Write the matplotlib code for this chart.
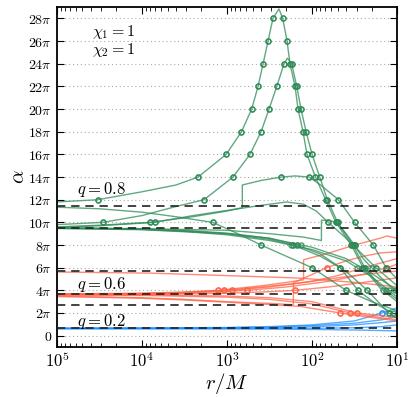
import numpy as np
import matplotlib
matplotlib.use("Agg")
import matplotlib.pyplot as plt

plt.rcParams['mathtext.fontset'] = 'cm'
plt.rcParams['font.family'] = ['DejaVu Serif']

# ---- data: each curve is (log10 r, alpha/pi) ----
green_lr = [
    [5.0, 4.52, 4.0, 3.6, 3.34, 3.01, 2.83, 2.71, 2.635, 2.576, 2.518, 2.46, 2.39, 2.345, 2.294, 2.26, 2.2, 2.165, 2.106, 2.06, 1.96, 1.84, 1.72, 1.54, 1.40, 1.2, 1.0],
    [5.0, 4.46, 4.0, 3.6, 3.27, 2.93, 2.73, 2.6, 2.506, 2.415, 2.33, 2.29, 2.24, 2.18, 2.13, 2.07, 2.0, 1.91, 1.82, 1.70, 1.52, 1.38, 1.2, 1.0],
    [5.0, 4.5, 3.91, 3.4, 3.0, 2.82, 2.82, 2.6, 2.36, 2.2, 2.035, 1.9, 1.69, 1.5, 1.28, 1.13, 1.0],
    [5.0, 4.5, 3.85, 3.4, 2.96, 2.6, 2.3, 2.1, 1.95, 1.81, 1.6, 1.25, 1.0],
    [5.0, 4.5, 4.0, 3.6, 3.17, 2.9, 2.6, 2.3, 2.0, 1.6, 1.3, 1.0],
    [5.0, 4.0, 3.0, 2.5, 2.1, 1.89, 1.89, 1.8, 1.71, 1.6, 1.5, 1.4, 1.2, 1.0],
    [5.0, 4.0, 3.5, 3.0, 2.5, 2.22, 1.9, 1.67, 1.46, 1.25, 1.0],
    [5.0, 4.0, 3.5, 3.0, 2.5, 2.18, 1.9, 1.59, 1.35, 1.1, 1.0],
    [5.0, 4.0, 3.5, 3.0, 2.5, 2.0, 1.6, 1.3, 1.0],
    [5.0, 4.0, 3.0, 2.5, 2.0, 1.6, 1.3, 1.0],
]
green_a = [
    [11.8, 12.0, 12.7, 13.3, 14.0, 16.0, 18.0, 20.0, 22.0, 24.0, 26.0, 28.0, 28.85, 28.0, 26.0, 24.0, 22.0, 20.0, 18.0, 16.0, 14.0, 12.0, 10.0, 8.0, 6.0, 4.2, 3.0],
    [9.8, 10.0, 10.6, 11.4, 12.0, 14.0, 16.0, 18.0, 20.0, 22.0, 24.0, 24.5, 24.0, 22.0, 20.0, 18.0, 16.0, 14.0, 12.0, 10.0, 8.0, 6.0, 4.4, 3.2],
    [9.6, 9.75, 10.0, 10.5, 11.0, 11.3, 13.3, 13.7, 14.0, 14.1, 14.0, 13.3, 12.0, 10.0, 8.0, 6.0, 5.0],
    [9.55, 9.7, 10.0, 10.6, 11.1, 11.5, 11.8, 11.6, 11.0, 10.0, 8.6, 6.0, 4.4],
    [11.34, 11.2, 10.9, 10.5, 10.0, 9.1, 8.0, 7.0, 6.0, 4.0, 3.0, 2.2],
    [9.5, 9.45, 9.3, 9.0, 8.7, 8.4, 10.2, 10.15, 10.0, 9.0, 8.0, 6.8, 5.2, 3.8],
    [9.52, 9.4, 9.25, 9.0, 8.5, 8.0, 7.0, 6.0, 4.0, 2.8, 1.8],
    [9.5, 9.42, 9.3, 9.05, 8.6, 8.0, 7.2, 5.6, 4.0, 2.0, 1.5],
    [9.48, 9.38, 9.2, 8.9, 8.4, 7.6, 6.6, 5.2, 3.4],
    [9.46, 9.35, 9.0, 8.6, 7.8, 6.8, 5.5, 4.0],
]

red_lr = [
    [5.0, 3.9, 3.0, 2.14, 1.5, 1.0],
    [5.0, 4.0, 3.5, 3.1, 2.6, 2.3, 2.1, 2.1, 1.8, 1.5, 1.2, 1.12, 1.0],
    [5.0, 4.0, 3.5, 3.03, 2.6, 2.2, 1.8, 1.4, 1.0],
    [5.0, 4.0, 3.5, 2.94, 2.5, 2.0, 1.7, 1.4, 1.0],
    [5.0, 4.0, 3.5, 2.76, 2.3, 1.8, 1.4, 1.12, 1.0],
    [5.0, 4.0, 3.0, 2.5, 2.2, 1.8, 1.4, 1.0],
    [5.0, 4.0, 3.5, 3.0, 2.5, 2.22, 2.22, 2.0, 1.83, 1.6, 1.4, 1.2, 1.0],
    [5.0, 4.0, 3.5, 3.0, 2.5, 2.14, 1.67, 1.4, 1.0],
    [5.0, 4.0, 3.0, 2.5, 2.0, 1.55, 1.2, 1.0],
    [5.0, 4.0, 3.0, 2.5, 2.0, 1.47, 1.0],
]
red_a = [
    [5.62, 5.52, 5.3, 5.08, 4.7, 4.3],
    [3.68, 3.75, 3.85, 4.0, 4.4, 4.7, 4.93, 6.7, 7.3, 8.0, 8.6, 8.8, 8.6],
    [3.66, 3.72, 3.82, 4.0, 4.3, 4.6, 5.0, 5.4, 5.7],
    [3.64, 3.7, 3.8, 4.0, 4.3, 4.8, 5.3, 6.0, 6.8],
    [3.62, 3.66, 3.74, 4.0, 4.3, 4.8, 5.4, 6.0, 6.3],
    [3.6, 3.62, 3.75, 3.88, 4.0, 4.3, 4.7, 5.1],
    [3.5, 3.35, 3.2, 3.0, 2.85, 2.73, 4.67, 5.4, 6.0, 6.6, 7.0, 7.3, 7.4],
    [3.45, 3.3, 3.15, 2.95, 2.75, 2.58, 2.0, 1.7, 1.3],
    [3.6, 3.55, 3.4, 3.2, 2.8, 2.0, 1.6, 1.4],
    [3.65, 3.6, 3.5, 3.35, 3.0, 2.0, 1.6],
]

blue_lr = [
    [5.0, 4.0, 3.0, 2.5, 2.0, 1.5, 1.18, 1.0],
    [5.0, 4.0, 3.0, 2.5, 2.0, 1.5, 1.18, 1.0],
    [5.0, 4.0, 3.0, 2.5, 2.0, 1.5, 1.18, 1.0],
    [5.0, 4.0, 3.0, 2.5, 2.0, 1.5, 1.18, 1.0],
    [5.0, 4.0, 3.0, 2.5, 2.0, 1.5, 1.18, 1.0],
]
blue_a = [
    [0.66, 0.68, 0.72, 0.8, 0.95, 1.3, 2.0, 2.45],
    [0.64, 0.66, 0.7, 0.76, 0.88, 1.1, 1.4, 1.7],
    [0.63, 0.64, 0.66, 0.7, 0.78, 0.95, 1.15, 1.3],
    [0.62, 0.62, 0.62, 0.63, 0.64, 0.7, 0.8, 0.95],
    [0.62, 0.61, 0.6, 0.58, 0.55, 0.5, 0.45, 0.42],
]

dashed_levels = [11.45, 9.5, 5.67, 3.67, 2.67, 0.64]   # alpha/pi
ytick_vals = list(range(0, 29, 2))                      # alpha/pi
xtick_exps = [5, 4, 3, 2, 1]
q_labels = ["$q = 0.8$", "$q = 0.6$", "$q = 0.2$"]

GREEN = "#2e8b57"
RED = "#ff6347"
BLUE = "#1e90ff"

fig = plt.figure(figsize=(4.15, 3.97), dpi=100)
ax = fig.add_axes([0.137, 0.126, 0.82, 0.856])

for y in ytick_vals:
    ax.axhline(y * np.pi, color="#aaaaaa", ls=(0, (1, 2.5)), lw=0.8, zorder=0)

for lev in dashed_levels:
    ax.axhline(lev * np.pi, color="#222222", ls=(0, (5, 3.5)), lw=1.2, zorder=3)


def crossings(lr, a):
    pts = []
    for i in range(len(lr) - 1):
        x0, x1, y0, y1 = lr[i], lr[i + 1], a[i], a[i + 1]
        if x0 == x1 or y0 == y1:
            continue
        lo, hi = min(y0, y1), max(y0, y1)
        for k in range(0, 30, 2):
            if lo < k <= hi or (lo <= k < hi):
                t = (k - y0) / (y1 - y0)
                if 0 <= t <= 1:
                    pts.append((x0 + t * (x1 - x0), k))
    return pts


def draw(lrs, aas, color):
    for lr, a in zip(lrs, aas):
        lr = np.array(lr)
        a = np.array(a)
        ax.plot(10 ** lr, a * np.pi, color=color, lw=1.0, alpha=0.75, zorder=2)
        pts = crossings(lr, a)
        if pts:
            px = np.array([p[0] for p in pts])
            py = np.array([p[1] for p in pts])
            ax.plot(10 ** px, py * np.pi, ls="none", marker="o", ms=3.6,
                    mfc="none", mec=color, mew=1.0, alpha=0.85, zorder=2)


draw(blue_lr, blue_a, BLUE)
draw(red_lr, red_a, RED)
draw(green_lr, green_a, GREEN)

ax.set_xscale("log")
ax.set_xlim(1e5, 1e1)
ax.set_ylim(-np.pi, 29 * np.pi)

ax.set_yticks([y * np.pi for y in ytick_vals])
ax.set_yticklabels(["$0$"] + [r"$%d\pi$" % y for y in ytick_vals[1:]], fontsize=10)
ax.set_xticks([10.0 ** e for e in xtick_exps])
ax.set_xticklabels([r"$10^{%d}$" % e for e in xtick_exps], fontsize=12)
ax.xaxis.set_minor_locator(matplotlib.ticker.LogLocator(base=10, subs=np.arange(2, 10), numticks=20))
ax.xaxis.set_minor_formatter(matplotlib.ticker.NullFormatter())

ax.tick_params(which="both", direction="in", top=True, right=True)
ax.tick_params(which="major", length=5, width=0.8)
ax.tick_params(which="minor", length=3, width=0.6)
for s in ax.spines.values():
    s.set_linewidth(1.3)

ax.set_xlabel(r"$r/M$", fontsize=15, labelpad=0)
ax.set_ylabel(r"$\alpha$", fontsize=15, labelpad=0)

ax.text(0.102, 0.926, r"$\chi_1 = 1$", transform=ax.transAxes, fontsize=11.5, va="center")
ax.text(0.102, 0.874, r"$\chi_2 = 1$", transform=ax.transAxes, fontsize=11.5, va="center")
for lab, yy in zip(q_labels, [0.462, 0.184, 0.076]):
    ax.text(0.058, yy, lab, transform=ax.transAxes, fontsize=12, va="center")

fig.savefig("out.png", dpi=100)
